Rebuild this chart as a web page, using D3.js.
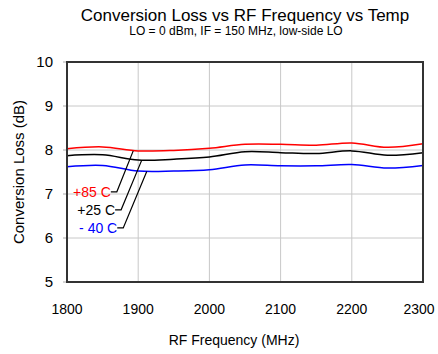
<!DOCTYPE html>
<html>
<head>
<meta charset="utf-8">
<script src="https://cdn.jsdelivr.net/npm/d3@7"></script>
<style>
  body { margin: 0; background: #fff; }
  text { font-family: "Liberation Sans", Arial, sans-serif; }
</style>
</head>
<body>
<svg id="chart" width="438" height="354"></svg>
<script>
const freqs = [1800, 1850, 1900, 1950, 2000, 2050, 2100, 2150, 2200, 2250, 2300];
const loss85 = [8.03, 8.07, 7.98, 7.99, 8.04, 8.13, 8.13, 8.11, 8.16, 8.06, 8.14];
const loss25 = [7.87, 7.89, 7.77, 7.79, 7.84, 7.96, 7.94, 7.92, 7.98, 7.88, 7.94];
const lossM40 = [7.62, 7.65, 7.52, 7.52, 7.55, 7.66, 7.64, 7.64, 7.67, 7.59, 7.65];
const xTicks = [1800, 1900, 2000, 2100, 2200, 2300];
const yTicks = [5, 6, 7, 8, 9, 10];

const series = [
  { name: '+85 C', values: loss85, color: '#ff0000', tip: [1893, 7.98], elbow: [1870, 7.05] },
  { name: '+25 C', values: loss25, color: '#000000', tip: [1905, 7.77], elbow: [1876, 6.64] },
  { name: '- 40 C', values: lossM40, color: '#0000ff', tip: [1912, 7.51], elbow: [1879, 6.23] }
];

const svg = d3.select('#chart');
const m = { left: 67, right: 423, top: 62, bottom: 282 };

const x = d3.scaleLinear().domain([1800, 2300]).range([m.left, m.right]);
const y = d3.scaleLinear().domain([5, 10]).range([m.bottom, m.top]);

// gridlines
svg.append('g')
  .selectAll('line')
  .data(xTicks.slice(1, -1))
  .enter().append('line')
  .attr('x1', d => x(d)).attr('x2', d => x(d))
  .attr('y1', m.top).attr('y2', m.bottom)
  .attr('stroke', '#c8c8c8').attr('stroke-width', 1);

svg.append('g')
  .selectAll('line')
  .data(yTicks.slice(1, -1))
  .enter().append('line')
  .attr('x1', m.left).attr('x2', m.right)
  .attr('y1', d => y(d)).attr('y2', d => y(d))
  .attr('stroke', '#c8c8c8').attr('stroke-width', 1);

// y axis ticks (outside, grey)
svg.append('g')
  .selectAll('line')
  .data(yTicks)
  .enter().append('line')
  .attr('x1', m.left - 4).attr('x2', m.left)
  .attr('y1', d => y(d)).attr('y2', d => y(d))
  .attr('stroke', '#aaa');

// tick labels
svg.append('g')
  .selectAll('text')
  .data(yTicks)
  .enter().append('text')
  .attr('x', 53).attr('y', d => y(d) + 5)
  .attr('text-anchor', 'end')
  .attr('font-size', 15)
  .text(d => d);

svg.append('g')
  .selectAll('text')
  .data(xTicks)
  .enter().append('text')
  .attr('x', (d, i) => x(d) - (i === xTicks.length - 1 ? 4 : 0))
  .attr('y', 314)
  .attr('text-anchor', 'middle')
  .attr('font-size', 14)
  .text(d => d);

// lines
const line = d3.line()
  .x((d, i) => x(freqs[i]))
  .y(d => y(d))
  .curve(d3.curveCatmullRom.alpha(0.5));

series.forEach(s => {
  svg.append('path')
    .attr('d', line(s.values))
    .attr('fill', 'none')
    .attr('stroke', s.color)
    .attr('stroke-width', 1.5);
});

// frame
svg.append('rect')
  .attr('x', m.left).attr('y', m.top)
  .attr('width', m.right - m.left).attr('height', m.bottom - m.top)
  .attr('fill', 'none')
  .attr('stroke', '#333').attr('stroke-width', 2);

// labels with leader lines
series.forEach(s => {
  const ex = x(s.elbow[0]), ey = y(s.elbow[1]);
  svg.append('polyline')
    .attr('points', `${ex - 6},${ey} ${ex},${ey} ${x(s.tip[0])},${y(s.tip[1])}`)
    .attr('fill', 'none')
    .attr('stroke', '#000')
    .attr('stroke-width', 1.2);
  svg.append('text')
    .attr('x', ex - 6).attr('y', ey + 5)
    .attr('text-anchor', 'end')
    .attr('font-size', 14)
    .attr('fill', s.color)
    .text(s.name);
});

// titles
svg.append('text')
  .attr('x', 245).attr('y', 21)
  .attr('text-anchor', 'middle')
  .attr('font-size', 17)
  .text('Conversion Loss vs RF Frequency vs Temp');

svg.append('text')
  .attr('x', 236).attr('y', 35)
  .attr('text-anchor', 'middle')
  .attr('font-size', 12)
  .text('LO = 0 dBm, IF = 150 MHz, low-side LO');

svg.append('text')
  .attr('x', 234).attr('y', 345)
  .attr('text-anchor', 'middle')
  .attr('font-size', 14)
  .text('RF Frequency (MHz)');

svg.append('text')
  .attr('transform', `translate(24, ${(m.top + m.bottom) / 2}) rotate(-90)`)
  .attr('text-anchor', 'middle')
  .attr('font-size', 15)
  .text('Conversion Loss (dB)');
</script>
</body>
</html>
